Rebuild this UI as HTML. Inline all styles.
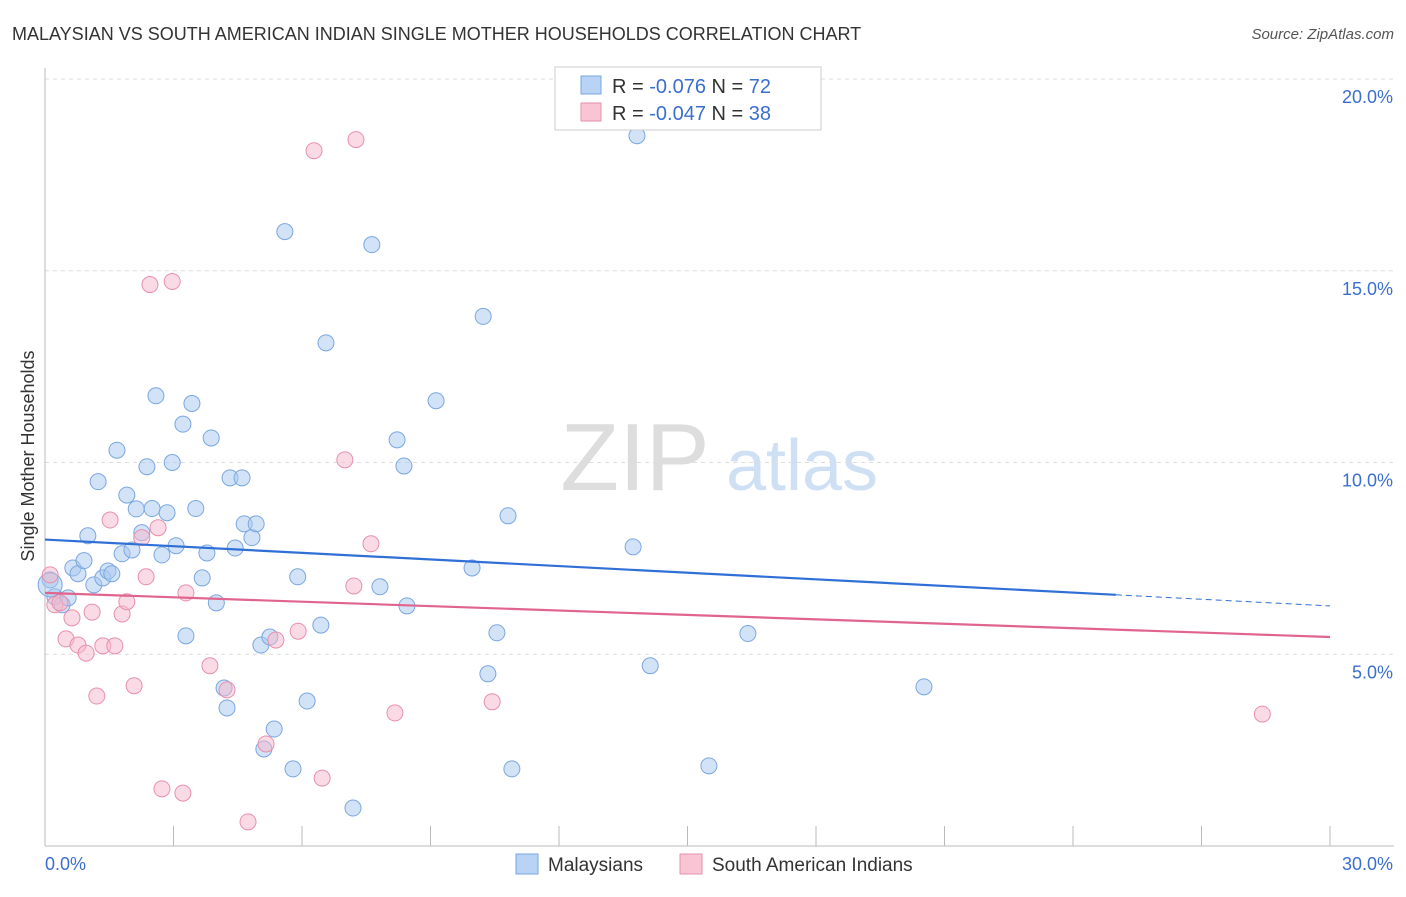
<!DOCTYPE html>
<html><head><meta charset="utf-8"><style>
body{margin:0;background:#fff;font-family:"Liberation Sans",sans-serif;}
svg text{font-family:"Liberation Sans",sans-serif;}
</style></head><body>
<svg id="chart" width="1406" height="892" viewBox="0 0 1406 892" xmlns="http://www.w3.org/2000/svg">
<text x="12" y="40" font-size="18" fill="#333">MALAYSIAN VS SOUTH AMERICAN INDIAN SINGLE MOTHER HOUSEHOLDS CORRELATION CHART</text>
<text x="1394" y="39" font-size="15" fill="#555" text-anchor="end" font-style="italic">Source: ZipAtlas.com</text>
<text transform="translate(34,456) rotate(-90)" font-size="18" fill="#333" text-anchor="middle">Single Mother Households</text>
<g>
<text x="635" y="490" font-size="96" fill="#ddd" text-anchor="middle" font-family="Liberation Serif">ZIP</text>
<text x="802" y="490" font-size="72" fill="#cfe0f5" text-anchor="middle">atlas</text>
</g>
<g id="grid"></g><g id="axes"></g><g id="pts"></g><g id="trend"></g>
<g>
<rect x="555" y="67" width="266" height="63" fill="#fff" stroke="#ccc"/>
<rect x="581" y="76" width="20" height="18" fill="#b8d3f5" stroke="#7aa7e0"/>
<rect x="581" y="103" width="20" height="18" fill="#f9c5d5" stroke="#e890ac"/>
<text x="612" y="93" font-size="20" fill="#333">R = <tspan fill="#3a6fd0">-0.076</tspan>   N = <tspan fill="#3a6fd0">72</tspan></text>
<text x="612" y="120" font-size="20" fill="#333">R = <tspan fill="#3a6fd0">-0.047</tspan>   N = <tspan fill="#3a6fd0">38</tspan></text>
</g>
<g>
<rect x="516" y="854" width="22" height="20" fill="#b8d3f5" stroke="#7aa7e0"/>
<text x="548" y="871" font-size="19" fill="#333">Malaysians</text>
<rect x="680" y="854" width="22" height="20" fill="#f9c5d5" stroke="#e890ac"/>
<text x="712" y="871" font-size="19" fill="#333">South American Indians</text>
</g>
</svg>
<script>
const yTicks=[5,10,15,20];
const yTickLabels=["5.0%","10.0%","15.0%","20.0%"];
const xLabels=["0.0%","30.0%"];
const blueX=[0.12,0.23,0.4,0.54,0.65,0.77,0.91,1.0,1.14,1.24,1.35,1.47,1.56,1.68,1.8,1.91,2.03,2.13,2.26,2.38,2.5,2.59,2.73,2.85,2.97,3.06,3.22,3.29,3.43,3.52,3.67,3.78,3.88,4.0,4.18,4.25,4.32,4.44,4.6,4.65,4.83,4.93,5.04,5.11,5.25,5.35,5.6,5.79,5.9,6.12,6.44,6.56,7.19,7.63,7.82,8.22,8.38,8.45,9.13,9.97,10.23,10.34,10.55,10.81,10.9,13.73,13.82,14.13,15.5,16.41,20.52,0.12];
const blueY=[6.94,6.5,6.29,6.47,7.25,7.1,7.44,8.09,6.81,9.5,6.99,7.17,7.1,10.32,7.62,9.15,7.72,8.79,8.17,9.89,8.8,11.74,7.59,8.69,10.0,7.83,11.0,5.48,11.54,8.8,6.99,7.64,10.64,6.34,4.12,3.6,9.6,7.77,9.6,8.4,8.04,8.4,5.24,2.53,5.45,3.05,16.02,2.01,7.02,3.78,5.76,13.12,0.99,15.68,6.76,10.59,9.91,6.26,11.61,7.25,13.81,4.49,5.56,8.61,2.01,7.8,18.52,4.7,2.09,5.54,4.15,6.81];
const pinkX=[0.12,0.23,0.35,0.49,0.63,0.77,0.96,1.1,1.21,1.35,1.52,1.63,1.8,1.91,2.08,2.26,2.36,2.45,2.64,2.73,2.97,3.22,3.29,3.85,4.25,4.74,5.16,5.39,5.91,6.28,6.47,7.0,7.21,7.26,7.61,8.17,10.44,28.42];
const pinkY=[7.07,6.29,6.34,5.4,5.95,5.24,5.03,6.1,3.91,5.22,8.5,5.22,6.05,6.37,4.18,8.04,7.02,14.64,8.3,1.49,14.72,1.38,6.6,4.7,4.07,0.63,2.66,5.37,5.6,18.13,1.77,10.07,6.78,18.42,7.88,3.47,3.76,3.44];
const X0=45,X1=1330,Y0=846,Y20=79;
const sx=v=>X0+(X1-X0)*v/30, sy=v=>Y0-(Y0-Y20)*v/20;
const NS="http://www.w3.org/2000/svg";
function mk(p,t,a){const e=document.createElementNS(NS,t);for(const k in a)e.setAttribute(k,a[k]);p.appendChild(e);return e;}
const grid=document.getElementById('grid'),axes=document.getElementById('axes');
yTicks.forEach((t,i)=>{
 const l=mk(grid,'line',{x1:X0,x2:1394,y1:sy(t),y2:sy(t),stroke:'#ddd','stroke-dasharray':'4,4'});
 
 const tx=mk(axes,'text',{x:1393,y:sy(t)+24,'font-size':18,fill:'#3a6fd0','text-anchor':'end'});
 tx.textContent=yTickLabels[i];
 
});
const ax=mk(axes,'line',{x1:X0,x2:1394,y1:Y0,y2:Y0,stroke:'#bbb'});

const ay=mk(axes,'line',{x1:X0,x2:X0,y1:68,y2:Y0,stroke:'#bbb'});

for(let i=1;i<=10;i++){const t=mk(axes,'line',{x1:sx(i*3),x2:sx(i*3),y1:826,y2:Y0,stroke:'#bbb'});
 }
const xl0=mk(axes,'text',{x:45,y:870,'font-size':18,fill:'#3a6fd0'});xl0.textContent=xLabels[0];

const xl1=mk(axes,'text',{x:1393,y:870,'font-size':18,fill:'#3a6fd0','text-anchor':'end'});xl1.textContent=xLabels[1];

const pts=document.getElementById('pts');
blueX.forEach((v,i)=>{const c=mk(pts,'circle',{cx:sx(v),cy:sy(blueY[i]),r:i==blueX.length-1?12:8,fill:'#a8c8f0','fill-opacity':0.5,stroke:'#7aa7e0','stroke-width':1});
 });
pinkX.forEach((v,i)=>{const c=mk(pts,'circle',{cx:sx(v),cy:sy(pinkY[i]),r:8,fill:'#f5b8cc','fill-opacity':0.5,stroke:'#e890ac','stroke-width':1});
 });
const tr=document.getElementById('trend');
const b1=mk(tr,'line',{x1:sx(0),y1:sy(7.99),x2:sx(25),y2:sy(6.55),stroke:'#2f6fd6','stroke-width':2.2});

const b2=mk(tr,'line',{x1:sx(25),y1:sy(6.55),x2:sx(30),y2:sy(6.26),stroke:'#2f6fd6','stroke-width':1,'stroke-dasharray':'6,4'});

const p1=mk(tr,'line',{x1:sx(0),y1:sy(6.6),x2:sx(30),y2:sy(5.45),stroke:'#e0648e','stroke-width':2.2});

</script>
</body></html>
